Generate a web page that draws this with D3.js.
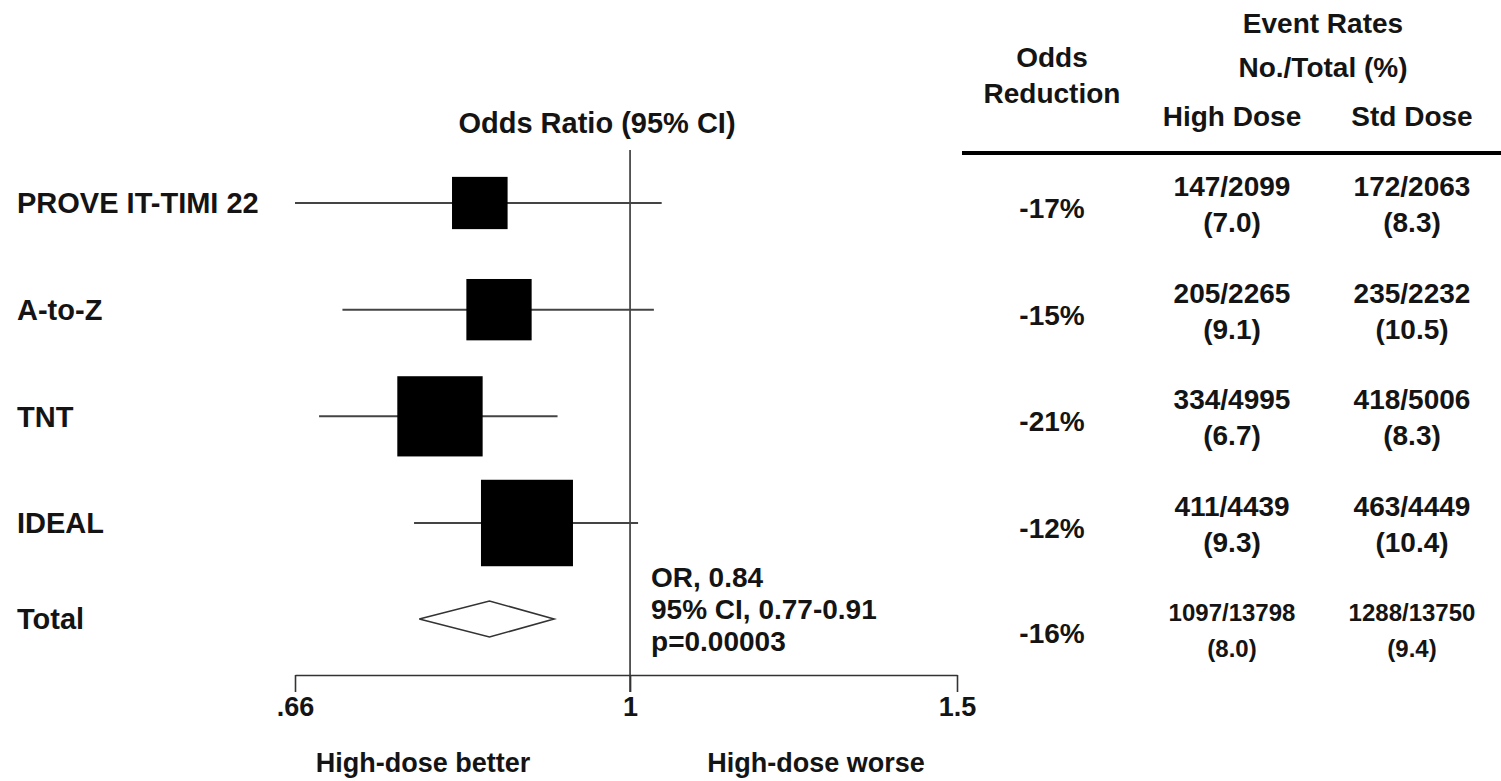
<!DOCTYPE html>
<html>
<head>
<meta charset="utf-8">
<script src="https://cdn.jsdelivr.net/npm/d3@7"></script>
<style>
  body { margin: 0; background: #fff; }
  svg text { font-family: "Liberation Sans", Arial, Helvetica, sans-serif; font-weight: bold; fill: #141414; }
</style>
</head>
<body>
<svg id="chart" width="1501" height="781"></svg>
<script>
// studies and their odds ratios
const studies = ["PROVE IT-TIMI 22", "A-to-Z", "TNT", "IDEAL"];
const oddsRatio = [0.83, 0.85, 0.79, 0.88];
const ciLow = [0.66, 0.70, 0.68, 0.765];
const ciHigh = [1.04, 1.03, 0.914, 1.01];

// pooled result
const totalLabel = "Total";
const totalOR = 0.84;
const totalLow = 0.77;
const totalHigh = 0.91;
const totalNotes = ["OR, 0.84", "95% CI, 0.77-0.91", "p=0.00003"];

// event rate table
const oddsReduction = ["-17%", "-15%", "-21%", "-12%"];
const highDoseEvents = [147, 205, 334, 411];
const highDoseTotal = [2099, 2265, 4995, 4439];
const highDoseRate = ["7.0", "9.1", "6.7", "9.3"];
const stdDoseEvents = [172, 235, 418, 463];
const stdDoseTotal = [2063, 2232, 5006, 4449];
const stdDoseRate = ["8.3", "10.5", "8.3", "10.4"];
const totalRow = {reduction: "-16%", high: "1097/13798", highRate: "8.0", std: "1288/13750", stdRate: "9.4"};

// axis
const tickValues = [0.66, 1, 1.5];
const tickLabels = [".66", "1", "1.5"];

const svg = d3.select("#chart");

//Scales
const x = d3.scaleLog().domain([0.66, 1.5]).range([295, 957]);
const y = d3.scaleLinear().domain([0, studies.length - 1]).range([203, 523]);
const totalY = 619;
const axisY = 675;

// box size follows number of events in the trial
const events = studies.map((s, i) => highDoseEvents[i] + stdDoseEvents[i]);
const boxSize = d3.scaleSqrt().domain([0, d3.max(events)]).range([0, 92]);

//Title over the plot
svg.append("text")
   .attr("x", 597).attr("y", 133)
   .attr("text-anchor", "middle")
   .style("font-size", "29px")
   .text("Odds Ratio (95% CI)");

//Line of no effect
svg.append("line")
   .attr("x1", x(1)).attr("x2", x(1))
   .attr("y1", 150).attr("y2", axisY + 17)
   .attr("stroke", "#333").attr("stroke-width", 1.6);

//Axis
const axis = d3.axisBottom(x)
               .tickValues(tickValues)
               .tickFormat((d, i) => tickLabels[i])
               .tickSize(17)
               .tickSizeOuter(0)
               .tickPadding(5);

const axisG = svg.append("g")
                 .attr("transform", "translate(0," + axisY + ")")
                 .call(axis);
axisG.select(".domain").attr("stroke", "#333").attr("stroke-width", 1.6);
axisG.selectAll(".tick line").attr("stroke", "#333").attr("stroke-width", 1.6);
axisG.selectAll(".tick text")
     .attr("font-family", null).attr("font-size", null)
     .style("font-size", "27px").attr("fill", "#141414");

svg.append("text")
   .attr("x", 423).attr("y", 772)
   .attr("text-anchor", "middle").style("font-size", "27px")
   .text("High-dose better");
svg.append("text")
   .attr("x", 816).attr("y", 772)
   .attr("text-anchor", "middle").style("font-size", "27px")
   .text("High-dose worse");

//Study rows
const rows = svg.selectAll("g.study")
                .data(studies)
                .enter().append("g")
                .attr("class", "study");

rows.append("text")
    .attr("x", 17)
    .attr("y", (d, i) => y(i))
    .attr("dy", "0.36em")
    .style("font-size", "29px")
    .text(d => d);

rows.append("line")
    .attr("x1", (d, i) => x(ciLow[i]))
    .attr("x2", (d, i) => x(ciHigh[i]))
    .attr("y1", (d, i) => y(i))
    .attr("y2", (d, i) => y(i))
    .attr("stroke", "#444").attr("stroke-width", 2);

rows.append("rect")
    .attr("x", (d, i) => x(oddsRatio[i]) - boxSize(events[i]) / 2)
    .attr("y", (d, i) => y(i) - boxSize(events[i]) * 0.94 / 2)
    .attr("width", (d, i) => boxSize(events[i]))
    .attr("height", (d, i) => boxSize(events[i]) * 0.94)
    .attr("fill", "#000");

//Pooled diamond
svg.append("text")
   .attr("x", 17).attr("y", totalY).attr("dy", "0.36em")
   .style("font-size", "29px")
   .text(totalLabel);

const diamond = d3.path();
diamond.moveTo(x(totalLow), totalY);
diamond.lineTo(x(totalOR), totalY - 18);
diamond.lineTo(x(totalHigh), totalY);
diamond.lineTo(x(totalOR), totalY + 18);
diamond.closePath();

svg.append("path")
   .attr("d", diamond.toString())
   .attr("fill", "#fff").attr("stroke", "#333").attr("stroke-width", 1.6);

svg.selectAll("text.note")
   .data(totalNotes)
   .enter().append("text")
   .attr("class", "note")
   .attr("x", x(1) + 21)
   .attr("y", (d, i) => 587 + i * 32)
   .style("font-size", "28px")
   .text(d => d);

//Table header
const colReduction = 1052, colHigh = 1232, colStd = 1412, colEvents = 1323;
const header = [
  {t: "Event Rates", x: colEvents, y: 33},
  {t: "Odds", x: colReduction, y: 67},
  {t: "No./Total (%)", x: colEvents, y: 77},
  {t: "Reduction", x: colReduction, y: 103},
  {t: "High Dose", x: colHigh, y: 126},
  {t: "Std Dose", x: colStd, y: 126}
];
svg.selectAll("text.header")
   .data(header)
   .enter().append("text")
   .attr("class", "header")
   .attr("x", d => d.x).attr("y", d => d.y)
   .attr("text-anchor", "middle")
   .style("font-size", "28px")
   .text(d => d.t);

svg.append("line")
   .attr("x1", 962).attr("x2", 1501)
   .attr("y1", 153).attr("y2", 153)
   .attr("stroke", "#000").attr("stroke-width", 4);

//Table rows
const tableRows = studies.map((s, i) => ({
  reduction: oddsReduction[i],
  high: highDoseEvents[i] + "/" + highDoseTotal[i],
  highRate: highDoseRate[i],
  std: stdDoseEvents[i] + "/" + stdDoseTotal[i],
  stdRate: stdDoseRate[i],
  y: y(i) + 5,
  size: 28
}));
tableRows.push(Object.assign({y: 633, size: 24}, totalRow));

const tr = svg.selectAll("g.trow")
              .data(tableRows)
              .enter().append("g")
              .attr("class", "trow")
              .attr("text-anchor", "middle");

tr.append("text")
  .attr("x", colReduction).attr("y", d => d.y).attr("dy", "0.36em")
  .style("font-size", "28px")
  .text(d => d.reduction);

[["high", "highRate", colHigh], ["std", "stdRate", colStd]].forEach(c => {
  tr.append("text")
    .attr("x", c[2]).attr("y", d => d.y - 12)
    .style("font-size", d => d.size + "px")
    .text(d => d[c[0]]);
  tr.append("text")
    .attr("x", c[2]).attr("y", d => d.y + 24)
    .style("font-size", d => d.size + "px")
    .text(d => "(" + d[c[1]] + ")");
});
</script>
</body>
</html>
